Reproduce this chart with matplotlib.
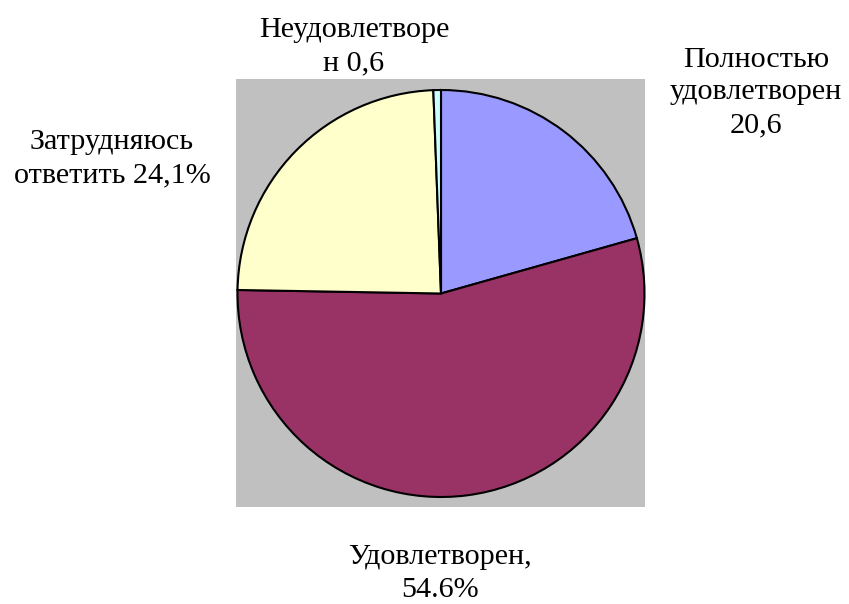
import matplotlib
matplotlib.use("Agg")
import matplotlib.pyplot as plt

# данные
labels = ["Полностью\nудовлетворен\n20,6", "Удовлетворен,\n54.6%",
          "Затрудняюсь\nответить 24,1%", "Неудовлетворе\nн 0,6"]
values = [20.6, 54.6, 24.1, 0.6]
colors = ["#9999FF", "#993366", "#FFFFCC", "#CCFFFF"]

W, H = 849, 604
fig = plt.figure(figsize=(W / 100, H / 100), dpi=100)
fig.patch.set_facecolor("white")
plt.rcParams['font.family'] = ['Liberation Serif', 'DejaVu Serif']

# серая область построения (в пикселях)
px0, px1, py0, py1 = 236, 645, 79, 507
ax = fig.add_axes([px0 / W, 1 - py1 / H, (px1 - px0) / W, (py1 - py0) / H])

cx, cy, r = 441, H - 293.5, 203.5
ax.pie(values, colors=colors, startangle=90, counterclock=False,
       center=(cx, cy), radius=r,
       wedgeprops=dict(edgecolor="black", linewidth=1.5))
ax.set_xlim(px0, px1)
ax.set_ylim(H - py1, H - py0)
ax.set_aspect("auto")
ax.set_frame_on(True)
ax.set_facecolor("#C0C0C0")
for s in ax.spines.values():
    s.set_visible(False)
ax.set_xticks([])
ax.set_yticks([])

# подписи (x центра, y базовой линии последней строки, в пикселях)
label_pos = [(756, 132), (440, 597), (112, 182), (354, 70)]
for lab, (x, y) in zip(labels, label_pos):
    fig.text(x / W, 1 - y / H, lab, ha="center", va="baseline",
             fontsize=21.7, linespacing=1.33, multialignment="center")

fig.savefig("out.png", dpi=100)
